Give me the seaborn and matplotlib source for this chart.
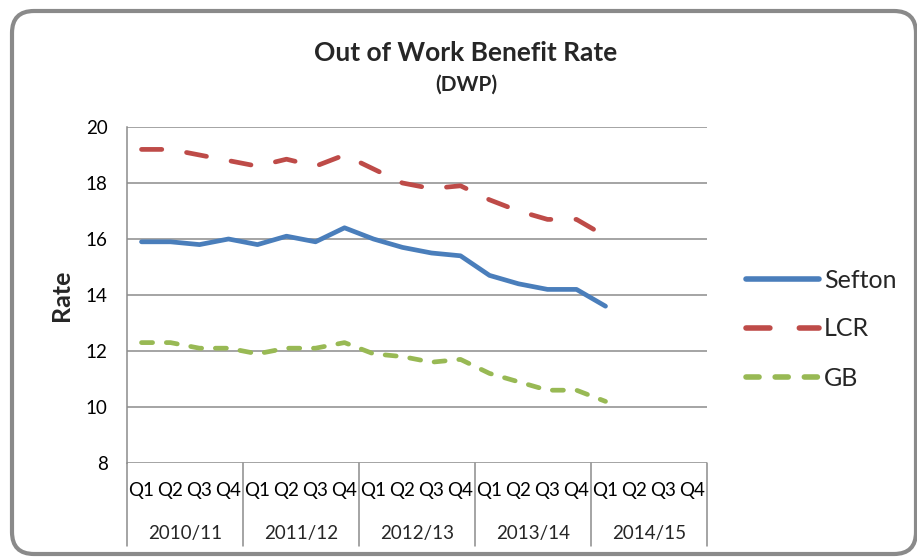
import matplotlib
matplotlib.use("Agg")
import matplotlib.pyplot as plt
import matplotlib.patches as mpatches
import seaborn as sns
import pandas as pd

# Financial years and quarters on the category axis
years = ["2010/11", "2011/12", "2012/13", "2013/14", "2014/15"]
quarters = ["Q1", "Q2", "Q3", "Q4"]

# Out of work benefit rate, Q1 2010/11 to Q1 2014/15
sefton = [15.9, 15.9, 15.8, 16.0, 15.8, 16.1, 15.9, 16.4, 16.0, 15.7, 15.5, 15.4,
          14.7, 14.4, 14.2, 14.2, 13.6]
lcr = [19.2, 19.2, 19.0, 18.8, 18.6, 18.85, 18.6, 19.0, 18.5, 18.0, 17.8, 17.9,
       17.4, 17.0, 16.7, 16.7, 16.1]
gb = [12.3, 12.3, 12.1, 12.1, 11.9, 12.1, 12.1, 12.3, 11.9, 11.8, 11.6, 11.7,
      11.2, 10.9, 10.6, 10.6, 10.2]

series_names = ["Sefton", "LCR", "GB"]
series_colors = {"Sefton": "#4A7EBB", "LCR": "#BE4B48", "GB": "#98B954"}
series_dashes = {"Sefton": "", "LCR": (4.3, 5.3), "GB": (2.35, 2.9)}

rows = []
for name, vals in zip(series_names, [sefton, lcr, gb]):
    for i, v in enumerate(vals):
        rows.append({"idx": i, "Rate": v, "series": name})
df = pd.DataFrame(rows)

sns.set_theme(style="white")
plt.rcParams["font.family"] = ["Lato", "DejaVu Sans"]

W, H = 917, 557
fig = plt.figure(figsize=(W / 100, H / 100), dpi=100)
ax = fig.add_axes([127 / W, (H - 463) / H, 580 / W, 336 / H])

sns.lineplot(data=df, x="idx", y="Rate", hue="series", style="series",
             hue_order=series_names, style_order=series_names,
             palette=series_colors, dashes=series_dashes,
             linewidth=3.4, dash_capstyle="round", solid_capstyle="round",
             ax=ax, legend=True)

n_cat = len(years) * len(quarters)
ax.set_xlim(-0.5, n_cat - 0.5)
ax.set_ylim(8, 20)
ax.set_yticks(range(8, 21, 2))
ax.yaxis.grid(True, color="#8c8c8c", linewidth=1.1)
ax.xaxis.grid(False)
for side in ["top", "right", "bottom"]:
    ax.spines[side].set_visible(False)
ax.spines["left"].set_color("#8c8c8c")
ax.spines["left"].set_linewidth(1.1)

ax.set_xticks(range(n_cat))
ax.set_xticklabels(quarters * len(years))
ax.tick_params(axis="x", length=0, pad=14, labelsize=13.5, colors="black")
ax.tick_params(axis="y", length=0, pad=14, labelsize=13.5, colors="black")
ax.set_xlabel("")
ax.set_ylabel("Rate", fontsize=18, fontweight="bold", labelpad=9)

# Year group labels and separators below the quarter labels
xt = ax.get_xaxis_transform()
sep_bottom = (463 - 546) / 336
for k in range(len(years) + 1):
    xpos = -0.5 + 4 * k
    ax.plot([xpos, xpos], [0, sep_bottom], transform=xt, clip_on=False,
            color="#8c8c8c", linewidth=1.1)
for k, yr in enumerate(years):
    ax.text(1.5 + 4 * k, (463 - 533) / 336, yr, transform=xt,
            ha="center", va="center", fontsize=13.5)

# Legend to the right of the plot
handles, labels = ax.get_legend_handles_labels()
leg = ax.legend(handles, labels, loc="center left",
                bbox_to_anchor=(746 / W, (H - 329) / H),
                bbox_transform=fig.transFigure, frameon=False,
                fontsize=18, handlelength=2.92, handletextpad=0.2,
                labelspacing=1.04, borderpad=0, borderaxespad=0)
for line in leg.get_lines():
    line.set_linewidth(4.0)

fig.text(466 / W, 1 - 53 / H, "Out of Work Benefit Rate", ha="center",
         va="center", fontsize=19, fontweight="bold")
fig.text(466 / W, 1 - 85 / H, "(DWP)", ha="center", va="center",
         fontsize=15, fontweight="bold")

# Rounded chart border
border = mpatches.FancyBboxPatch((12, 3), 904, 543,
                                 boxstyle="round,pad=0,rounding_size=22",
                                 transform=None, fill=False,
                                 edgecolor="#8a8a8a", linewidth=3)
fig.patches.append(border)

fig.savefig("out.png", dpi=100)
